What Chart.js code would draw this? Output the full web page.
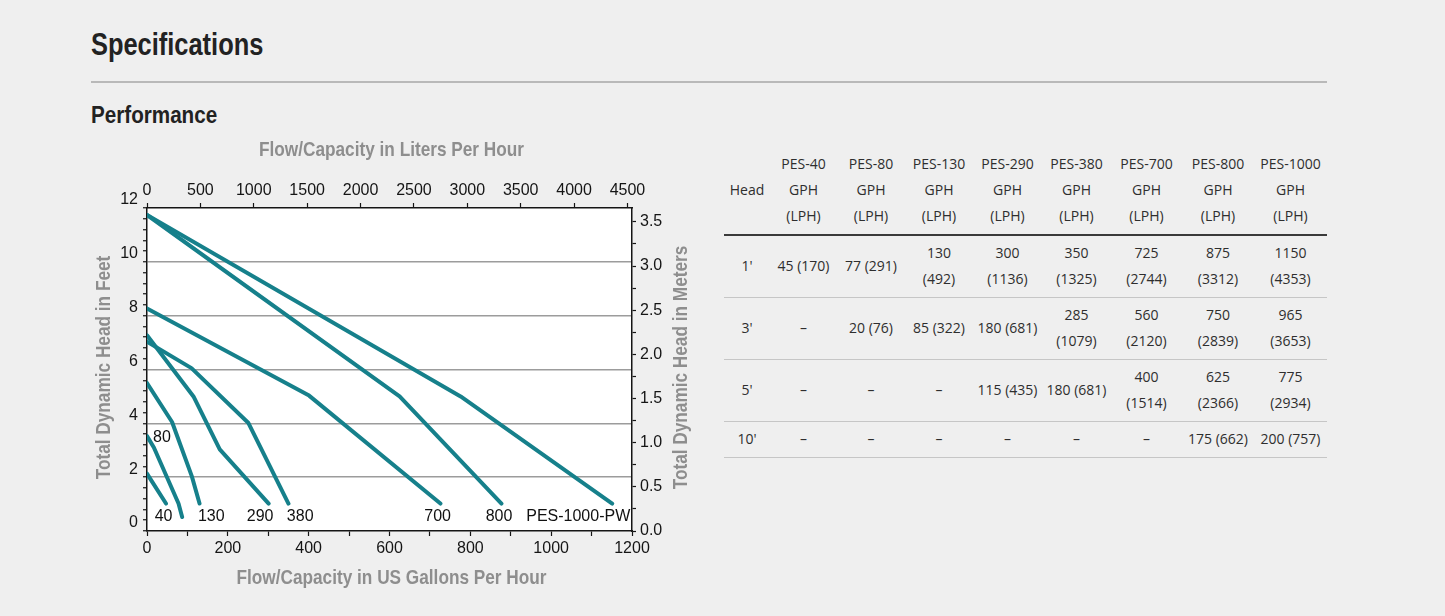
<!DOCTYPE html>
<html>
<head>
<meta charset="utf-8">
<title>Specifications - Performance</title>
<script src="https://cdn.jsdelivr.net/npm/chart.js@4.4.1/dist/chart.umd.min.js"></script>
<style>
    body {
        margin: 0;
        width: 1445px;
        height: 616px;
        background: #efefef;
        overflow: hidden;
        position: relative;
        font-family: "Open Sans", sans-serif;
    }
    h1, h2 {
        position: absolute;
        left: 91px;
        margin: 0;
        line-height: 1;
        font-weight: 700;
        color: #222;
        font-family: "Liberation Sans", Arial, sans-serif;
        transform: scaleX(0.82);
        transform-origin: 0 0;
        white-space: nowrap;
    }
    h1 { top: 29px;  font-size: 31px; }
    h2 { top: 103px; font-size: 24px; transform: scaleX(0.86); }
    .rule {
        position: absolute;
        left: 91px; top: 81px;
        width: 1236px; height: 2px;
        background: #b9b9b9;
    }
    #perfChart { position: absolute; left: 0; top: 0; }
    table {
        position: absolute;
        left: 724px; top: 147px;
        width: 603px;
        border-collapse: collapse;
        table-layout: fixed;
        font-size: 14px;
        line-height: 26px;
        color: #2e2e2e;
    }
    th, td {
        text-align: center;
        font-weight: 400;
        padding: 4px 0 5px;
        white-space: nowrap;
    }
    thead th { border-bottom: 2px solid #3a3a3a; }
    tbody td { border-bottom: 1px solid #c6c6c6; }
</style>
</head>
<body>

<h1>Specifications</h1>
<div class="rule"></div>
<h2>Performance</h2>

<canvas id="perfChart" width="720" height="616"></canvas>
<table id="perfTable"></table>

<script>
// ═══ 데이터 ═══
const LPH_PER_GPH = 3.78541;
const M_PER_FT    = 0.3048;

// 곡선: 유량(GPH) / 양정(ft)
const pes40Gph   = [0, 47];
const pes40Ft    = [2.13, 1.02];
const pes80Gph   = [0, 17, 78, 87];
const pes80Ft    = [3.53, 3.1, 1.02, 0.52];
const pes130Gph  = [0, 62, 111, 130];
const pes130Ft   = [5.5, 4.05, 2.03, 1.02];
const pes290Gph  = [0, 115, 180, 301];
const pes290Ft   = [7.27, 5.0, 3.03, 1.02];
const pes380Gph  = [0, 110, 251, 350];
const pes380Ft   = [7.03, 6.05, 4.01, 1.02];
const pes700Gph  = [0, 401, 726];
const pes700Ft   = [8.27, 5.03, 1.02];
const pes800Gph  = [0, 625, 877];
const pes800Ft   = [11.74, 5.0, 1.02];
const pes1000Gph = [0, 776, 1151];
const pes1000Ft  = [11.74, 5.0, 1.02];

// 곡선 이름 + 이름 표시 위치(GPH, ft)
const curveNames = ['40', '80', '130', '290', '380', '700', '800', 'PES-1000-PW'];
const labelGph   = [41, 37, 159, 280, 379, 719, 871, 1067];
const labelFt    = [0.52, 3.46, 0.52, 0.52, 0.52, 0.52, 0.52, 0.52];

// 눈금 라벨
const gphTickLabels   = [0, 200, 400, 600, 800, 1000, 1200];
const lphTickLabels   = [0, 500, 1000, 1500, 2000, 2500, 3000, 3500, 4000, 4500];
const feetTickLabels  = [0, 2, 4, 6, 8, 10, 12];
const meterTickLabels = [0, 0.5, 1.0, 1.5, 2.0, 2.5, 3.0, 3.5];

// 표
const tableModels = ['PES-40', 'PES-80', 'PES-130', 'PES-290', 'PES-380', 'PES-700', 'PES-800', 'PES-1000'];
const tableHeads  = ["1'", "3'", "5'", "10'"];
const row1ft  = ['45 (170)', '77 (291)', '130<br>(492)', '300<br>(1136)', '350<br>(1325)', '725<br>(2744)', '875<br>(3312)', '1150<br>(4353)'];
const row3ft  = ['–', '20 (76)', '85 (322)', '180 (681)', '285<br>(1079)', '560<br>(2120)', '750<br>(2839)', '965<br>(3653)'];
const row5ft  = ['–', '–', '–', '115 (435)', '180 (681)', '400<br>(1514)', '625<br>(2366)', '775<br>(2934)'];
const row10ft = ['–', '–', '–', '–', '–', '–', '175 (662)', '200 (757)'];
const colWidths = [46, 67, 68, 68, 69, 69, 71, 72, 73];

// ═══ 표 렌더링 ═══
function buildTable() {
    const rows = [row1ft, row3ft, row5ft, row10ft];
    let html = '<colgroup>' + colWidths.map(w => `<col style="width:${w}px">`).join('') + '</colgroup>';
    html += '<thead><tr><th>Head</th>' +
        tableModels.map(m => `<th>${m}<br>GPH<br>(LPH)</th>`).join('') + '</tr></thead><tbody>';
    rows.forEach((r, i) => {
        html += `<tr><td>${tableHeads[i]}</td>` + r.map(c => `<td>${c}</td>`).join('') + '</tr>';
    });
    document.getElementById('perfTable').innerHTML = html + '</tbody>';
}

// ═══ 차트 ═══
const TEAL      = '#16808b';
const TICK_FONT = { family: '"Liberation Sans", Arial, sans-serif', size: 16 };
const AXIS_INK  = '#151515';

const isMultiple = (v, step) => Math.abs(v / step - Math.round(v / step)) < 1e-6;
const hasLabel   = (list, v) => list.some(t => Math.abs(t - v) < 1e-6);

// 주 눈금 사이에 보조 눈금 채우기
function tickSet(max, minorStep) {
    const out = [];
    for (let i = 0; i * minorStep <= max + 1e-9; i++) out.push({ value: +(i * minorStep).toFixed(4) });
    return out;
}

const plotBackground = {
    id: 'plotBackground',
    beforeDraw(chart) {
        const { ctx, chartArea: a } = chart;
        ctx.save();
        ctx.fillStyle = '#ffffff';
        ctx.fillRect(a.left, a.top, a.right - a.left, a.bottom - a.top);
        ctx.restore();
    }
};

const seriesLabels = {
    id: 'seriesLabels',
    afterDatasetsDraw(chart) {
        const { ctx, scales: { x, y } } = chart;
        ctx.save();
        ctx.font = '16px "Liberation Sans", Arial, sans-serif';
        ctx.fillStyle = '#111';
        ctx.textAlign = 'center';
        ctx.textBaseline = 'middle';
        curveNames.forEach((n, i) => {
            ctx.fillText(n, x.getPixelForValue(labelGph[i]), y.getPixelForValue(labelFt[i]));
        });
        ctx.restore();
    }
};

// 축 제목 (오른쪽 제목도 아래→위 방향, 좁은 글꼴 흉내)
const axisTitles = {
    id: 'axisTitles',
    afterDraw(chart) {
        const { ctx, chartArea: a } = chart;
        const cx = (a.left + a.right) / 2 + 2;
        const cy = (a.top + a.bottom) / 2 - 2;
        const put = (text, x, y, rot) => {
            ctx.save();
            ctx.translate(x, y);
            if (rot) ctx.rotate(-Math.PI / 2);
            ctx.scale(0.82, 1);
            ctx.fillText(text, 0, 0);
            ctx.restore();
        };
        ctx.save();
        ctx.font = 'bold 21px "Liberation Sans", Arial, sans-serif';
        ctx.fillStyle = '#8e8e8e';
        ctx.textAlign = 'center';
        ctx.textBaseline = 'middle';
        put('Flow/Capacity in Liters Per Hour', cx, a.top - 58, false);
        put('Flow/Capacity in US Gallons Per Hour', cx, a.bottom + 47, false);
        put('Total Dynamic Head in Feet', a.left - 43, cy, true);
        put('Total Dynamic Head in Meters', a.right + 49, cy, true);
        ctx.restore();
    }
};

function curve(gph, ft) {
    return {
        data: gph.map((g, i) => ({ x: g, y: ft[i] })),
        borderColor: TEAL,
        borderWidth: 4,
        pointRadius: 0,
        tension: 0,
        fill: false,
        borderCapStyle: 'round',
        borderJoinStyle: 'round'
    };
}

const axisGrid = len => ({ drawOnChartArea: false, tickLength: len, tickColor: AXIS_INK, tickWidth: 1.2 });
const axisBorder = { color: AXIS_INK, width: 1.5 };

function initChart() {
    new Chart(document.getElementById('perfChart'), {
        type: 'line',
        data: {
            datasets: [
                curve(pes40Gph, pes40Ft),
                curve(pes80Gph, pes80Ft),
                curve(pes130Gph, pes130Ft),
                curve(pes290Gph, pes290Ft),
                curve(pes380Gph, pes380Ft),
                curve(pes700Gph, pes700Ft),
                curve(pes800Gph, pes800Ft),
                curve(pes1000Gph, pes1000Ft)
            ]
        },
        options: {
            responsive: false,
            animation: false,
            layout: { padding: { left: 87, right: 28, top: 148, bottom: 45 } },
            plugins: { legend: { display: false }, tooltip: { enabled: false } },
            scales: {
                x: {
                    type: 'linear', position: 'bottom', min: 0, max: 1200,
                    afterFit: s => { s.height = 40; },
                    afterBuildTicks: s => { s.ticks = tickSet(1200, 100); },
                    ticks: {
                        autoSkip: false, maxRotation: 0, padding: 3, color: AXIS_INK, font: TICK_FONT,
                        callback: v => hasLabel(gphTickLabels, v) ? v : ''
                    },
                    grid: axisGrid(5),
                    border: axisBorder
                },
                x2: {
                    type: 'linear', position: 'top', min: 0, max: 1200 * LPH_PER_GPH,
                    afterFit: s => { s.height = 60; },
                    afterBuildTicks: s => { s.ticks = lphTickLabels.map(v => ({ value: v })); },
                    ticks: {
                        autoSkip: false, maxRotation: 0, padding: 3, color: AXIS_INK, font: TICK_FONT,
                        callback: v => v
                    },
                    grid: axisGrid(5),
                    border: axisBorder
                },
                y: {
                    type: 'linear', position: 'left', min: 0, max: 12,
                    afterFit: s => { s.width = 60; },
                    afterBuildTicks: s => { s.ticks = tickSet(12, 0.4); },
                    ticks: {
                        autoSkip: false, padding: 5, labelOffset: -8, color: AXIS_INK, font: TICK_FONT,
                        callback: v => hasLabel(feetTickLabels, v) ? Math.round(v) : ''
                    },
                    grid: {
                        color: c => (isMultiple(c.tick.value, 2) && c.tick.value > 0 && c.tick.value < 12) ? '#9c9c9c' : 'rgba(0,0,0,0)',
                        lineWidth: 1.5,
                        tickLength: 4, tickColor: AXIS_INK, tickWidth: 1.2
                    },
                    border: axisBorder
                },
                y2: {
                    type: 'linear', position: 'right', min: 0, max: 12 * M_PER_FT,
                    afterFit: s => { s.width = 60; },
                    afterBuildTicks: s => { s.ticks = tickSet(3.5, 0.25); },
                    ticks: {
                        autoSkip: false, padding: 4, color: AXIS_INK, font: TICK_FONT,
                        callback: v => hasLabel(meterTickLabels, v) ? v.toFixed(1) : ''
                    },
                    grid: axisGrid(4),
                    border: axisBorder
                }
            }
        },
        plugins: [plotBackground, seriesLabels, axisTitles]
    });
}

buildTable();
initChart();
</script>
</body>
</html>
